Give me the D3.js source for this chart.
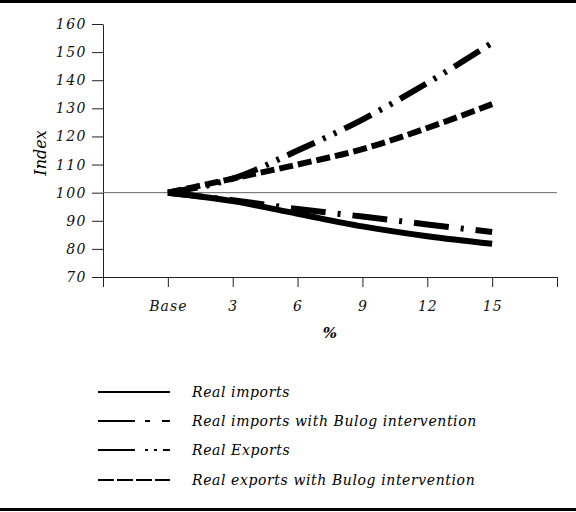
<!DOCTYPE html>
<html><head><meta charset="utf-8">
<script src="https://cdn.jsdelivr.net/npm/d3@7"></script>
<style>body{margin:0;background:#fff}svg{display:block}text{font-family:"DejaVu Serif",serif;font-style:italic}</style>
</head><body><svg id="c" width="576" height="512"></svg>
<script>
const categories = ["Base","3","6","9","12","15"];
const realImports = [100, 97, 92.5, 88, 84.5, 81.8];
const realImportsBulog = [100, 97.3, 94.2, 91.5, 88.7, 86];
const realExports = [100, 105, 115, 126, 139, 153.3];
const realExportsBulog = [100, 105, 110, 115.5, 123, 131.5];
const yTicks = [70,80,90,100,110,120,130,140,150,160];
const seriesNames = ["Real imports","Real imports with Bulog intervention","Real Exports","Real exports with Bulog intervention"];

const svg = d3.select("#c");
const x0 = 103, x1 = 557, yTop = 24, yBot = 277;
const x = d3.scaleLinear().domain([0, 7]).range([x0, x1]);
const y = d3.scaleLinear().domain([70, 160]).range([yBot, yTop]);

// borders
svg.append("rect").attr("x",0).attr("y",0).attr("width",576).attr("height",3).attr("fill","#000");
svg.append("rect").attr("x",0).attr("y",508).attr("width",576).attr("height",3).attr("fill","#000");

// y axis
const yAxis = d3.axisLeft(y).tickValues(yTicks).tickSize(11).tickSizeOuter(0).tickPadding(5);
const gy = svg.append("g").attr("transform",`translate(${x0},0)`).call(yAxis);
gy.select(".domain").attr("stroke","#222");
gy.selectAll(".tick line").attr("stroke","#222");
gy.selectAll("text").attr("font-size",14).attr("fill","#111").attr("letter-spacing",1.5).style("font-family","'DejaVu Serif',serif").style("font-style","italic");

// x axis
const xAxis = d3.axisBottom(x).tickValues([0,1,2,3,4,5,6,7]).tickSize(10).tickSizeOuter(0)
  .tickFormat(d => (d>=1 && d<=6) ? categories[d-1] : "").tickPadding(14);
const gx = svg.append("g").attr("transform",`translate(0,${yBot})`).call(xAxis);
gx.select(".domain").attr("stroke","#222");
gx.selectAll(".tick line").attr("stroke","#222");
gx.selectAll("text").attr("font-size",14).attr("fill","#111").attr("letter-spacing",1).style("font-family","'DejaVu Serif',serif").style("font-style","italic");

// 100 reference line
svg.append("line").attr("x1",x0).attr("x2",x1).attr("y1",y(100)).attr("y2",y(100)).attr("stroke","#666").attr("stroke-width",1);

// axis titles
svg.append("text").attr("transform",`translate(46,${153}) rotate(-90)`).attr("text-anchor","middle")
  .attr("font-size",16).text("Index");
svg.append("text").attr("x",330).attr("y",338).attr("text-anchor","middle").attr("font-size",15).attr("font-weight","bold").text("%");

const series = [
  {name: seriesNames[0], vals: realImports, dash: null},
  {name: seriesNames[1], vals: realImportsBulog, dash: "35,12,3,12"},
  {name: seriesNames[2], vals: realExports, dash: "30,9,3,9,3,9"},
  {name: seriesNames[3], vals: realExportsBulog, dash: "14,5"}
];
const line = d3.line().x((d,i)=>x(i+1)).y(d=>y(d)).curve(d3.curveMonotoneX);
series.forEach(s => {
  svg.append("path").datum(s.vals).attr("d", line).attr("fill","none").attr("stroke","#000")
    .attr("stroke-width",6).attr("stroke-dasharray", s.dash);
});

// legend
const legDash = [null, "37,10,5,12,8", "37,10,3,6,3,6,8", "16,3"];
const legY = [392, 421, 450, 480];
series.forEach((s,i) => {
  svg.append("line").attr("x1",98).attr("x2",170).attr("y1",legY[i]).attr("y2",legY[i])
    .attr("stroke","#000").attr("stroke-width",2).attr("stroke-dasharray",legDash[i]);
  svg.append("text").attr("x",192).attr("y",legY[i]+5).attr("font-size",14).attr("letter-spacing",0.6).text(s.name);
});
</script></body></html>
